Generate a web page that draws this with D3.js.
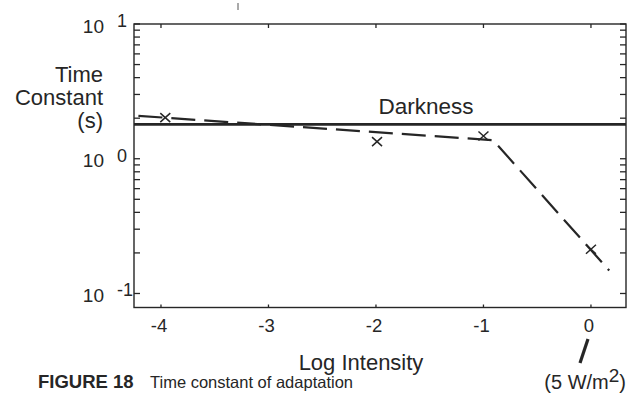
<!DOCTYPE html>
<html><head><meta charset="utf-8">
<script src="https://cdn.jsdelivr.net/npm/d3@7"></script>
<style>
html,body{margin:0;padding:0;background:#fff;}
svg{display:block;}
text{font-family:"Liberation Sans",Arial,Helvetica,sans-serif;fill:#262626;}
</style></head>
<body>
<svg id="chart" width="631" height="395"></svg>
<script>
// ---- data ----
const xTicks = [-4, -3, -2, -1, 0];
const xTickLabels = ["-4", "-3", "-2", "-1", "0"];
const yDecades = [0.1, 1, 10];
const yDecadeExponents = ["-1", "0", "1"];
const darknessValue = 1.80;
const fitX = [-4.21, -0.91, 0.17];
const fitY = [2.08, 1.373, 0.148];
const markX = [-3.96, -1.99, -1.0, 0.0];
const markY = [2.02, 1.34, 1.475, 0.213];

// ---- layout ----
const svg = d3.select("#chart");
const L = 134, R = 626, T = 24, B = 307.5;
const x = d3.scaleLinear().domain([-4.251, 0.326]).range([L, R]);
const y = d3.scaleLog().domain([0.0787, 10]).range([B, T]);
const ink = "#262626";

// minor/major y tick positions (1..9 per decade)
const yMinor = [];
yDecades.forEach(d => { for (let k = 1; k <= 9; k++) { const v = d * k; if (v >= 0.0787 && v <= 10.001) yMinor.push(v); } });

// left & right tick marks (inward)
svg.append("g").selectAll("line").data(yMinor).join("line")
  .attr("x1", L).attr("x2", L + 6)
  .attr("y1", d => y(d)).attr("y2", d => y(d))
  .attr("stroke", ink).attr("stroke-width", 1.3);
svg.append("g").selectAll("line").data(yMinor).join("line")
  .attr("x1", R).attr("x2", R - 6)
  .attr("y1", d => y(d)).attr("y2", d => y(d))
  .attr("stroke", ink).attr("stroke-width", 1.3);

// x ticks top & bottom (inward)
svg.append("g").selectAll("line").data(xTicks).join("line")
  .attr("x1", d => x(d)).attr("x2", d => x(d))
  .attr("y1", T).attr("y2", T + 4)
  .attr("stroke", ink).attr("stroke-width", 1.3);
svg.append("g").selectAll("line").data(xTicks).join("line")
  .attr("x1", d => x(d)).attr("x2", d => x(d))
  .attr("y1", B).attr("y2", B - 3)
  .attr("stroke", ink).attr("stroke-width", 1.3);

// frame
svg.append("rect").attr("x", L).attr("y", T).attr("width", R - L).attr("height", B - T)
  .attr("fill", "none").attr("stroke", ink).attr("stroke-width", 1.4);

// x tick labels
svg.append("g").selectAll("text").data(xTicks).join("text")
  .attr("x", d => x(d) - 2).attr("y", 332)
  .attr("text-anchor", "middle").attr("font-size", 18.5)
  .text((d, i) => xTickLabels[i]);

// y decade labels
const yl = svg.append("g").selectAll("g").data(yDecades).join("g");
yl.append("text").attr("x", 104).attr("y", d => Math.min(y(d), 299) + 8.5)
  .attr("text-anchor", "end").attr("font-size", 19).text("10");
yl.append("text").attr("x", 117).attr("y", d => y(d) + 3)
  .attr("text-anchor", "start").attr("font-size", 18)
  .text((d, i) => yDecadeExponents[i]);

// y axis title
const yt = svg.append("text").attr("text-anchor", "end").attr("font-size", 22);
[["Time", 82], ["Constant", 105], ["(s)", 128]].forEach(([t, by]) => {
  yt.append("tspan").attr("x", 103).attr("y", by).text(t);
});

// darkness line
svg.append("line").attr("x1", L).attr("x2", R)
  .attr("y1", y(darknessValue)).attr("y2", y(darknessValue))
  .attr("stroke", ink).attr("stroke-width", 2.6);
svg.append("text").attr("x", 426).attr("y", 114).attr("text-anchor", "middle")
  .attr("font-size", 22.5).text("Darkness");

// dashed fit line
const fit = fitX.map((v, i) => [v, fitY[i]]);
svg.append("path").datum(fit)
  .attr("d", d3.line().x(d => x(d[0])).y(d => y(d[1])))
  .attr("fill", "none").attr("stroke", ink).attr("stroke-width", 2.2)
  .attr("stroke-dasharray", "24,9");

// x markers
const marks = markX.map((v, i) => [v, markY[i]]);
svg.append("g").selectAll("path").data(marks).join("path")
  .attr("d", d => {
    const cx = x(d[0]), cy = y(d[1]), w = 5, h = 4.5;
    return `M${cx - w},${cy - h}L${cx + w},${cy + h}M${cx - w},${cy + h}L${cx + w},${cy - h}`;
  })
  .attr("fill", "none").attr("stroke", ink).attr("stroke-width", 1.5);

// x axis title
svg.append("text").attr("x", 361).attr("y", 370).attr("text-anchor", "middle")
  .attr("font-size", 22).text("Log Intensity");

// intensity pointer & annotation
svg.append("line").attr("x1", 580).attr("y1", 363).attr("x2", 588).attr("y2", 339)
  .attr("stroke", ink).attr("stroke-width", 3.2);
const ann = svg.append("text").attr("x", 626).attr("y", 389).attr("text-anchor", "end").attr("font-size", 20);
ann.append("tspan").text("(5 W/m");
ann.append("tspan").attr("dy", -7).attr("font-size", 19).text("2");
ann.append("tspan").attr("dy", 7).text(")");

// caption
svg.append("text").attr("x", 38).attr("y", 388).attr("font-size", 18.5).attr("font-weight", "bold").text("FIGURE 18");
svg.append("text").attr("x", 150).attr("y", 388).attr("font-size", 16.5).text("Time constant of adaptation");

// scan mark at top
svg.append("line").attr("x1", 238).attr("x2", 238).attr("y1", 3).attr("y2", 10)
  .attr("stroke", "#555").attr("stroke-width", 1);
</script>
</body></html>
